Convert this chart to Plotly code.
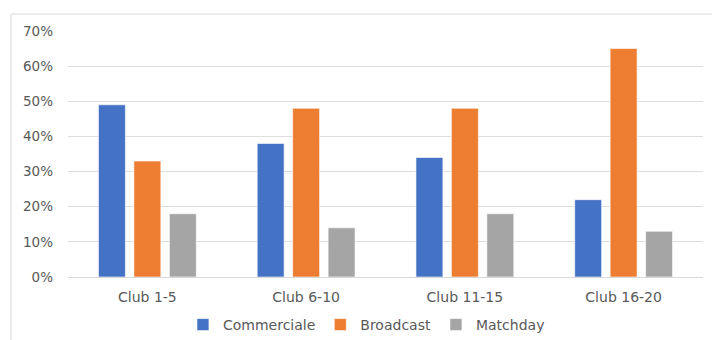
import plotly.graph_objects as go

# Revenue mix by league-position band
categories = ["Club 1-5", "Club 6-10", "Club 11-15", "Club 16-20"]
commerciale = [49, 38, 34, 22]
broadcast = [33, 48, 48, 65]
matchday = [18, 14, 18, 13]
y_ticks = [0, 10, 20, 30, 40, 50, 60, 70]
y_tick_text = [f"{v}%" for v in y_ticks]

series = [
    ("Commerciale", commerciale, "#4472C4"),
    ("Broadcast", broadcast, "#ED7D31"),
    ("Matchday", matchday, "#A5A5A5"),
]

W, H = 712, 340
ML, MR, MT, MB = 68, 9, 31, 63
pw, ph = W - ML - MR, H - MT - MB

fig = go.Figure()
for name, vals, color in series:
    fig.add_trace(go.Bar(
        x=categories, y=vals, name=name,
        marker=dict(color=color, line=dict(color="rgba(255,255,255,0.6)", width=1)),
    ))

FAMILY = "DejaVu Sans, Verdana, sans-serif"
font = dict(family=FAMILY, size=14, color="#595959")

# outer chart-area frame
fig.add_shape(
    type="rect", xref="paper", yref="paper",
    x0=(11 - ML) / pw, x1=(W + 20 - ML) / pw,
    y0=-(H + 20 - MT - ph) / ph, y1=1 + (MT - 14) / ph,
    line=dict(color="#D9D9D9", width=1), fillcolor="rgba(0,0,0,0)", layer="below",
)

fig.update_layout(
    width=W, height=H,
    margin=dict(l=ML, r=MR, t=MT, b=MB, autoexpand=False),
    paper_bgcolor="white", plot_bgcolor="white",
    font=font,
    barmode="group", bargap=0.33, bargroupgap=0.24,
    showlegend=True,
    legend=dict(
        orientation="h", x=0.47, xanchor="center", y=-0.195, yanchor="middle",
        font=dict(family=FAMILY, size=14, color="#595959"),
        itemwidth=30, traceorder="normal",
    ),
    xaxis=dict(
        showgrid=False, showline=True, linecolor="#D9D9D9", linewidth=1,
        ticks="", ticklabelstandoff=7,
    ),
    yaxis=dict(
        range=[0, 70], tickvals=y_ticks, ticktext=y_tick_text,
        tickfont=dict(size=13.5),
        showgrid=True, gridcolor="#DEDEDE", gridwidth=1,
        zeroline=True, zerolinecolor="#D9D9D9", zerolinewidth=1,
        showline=False, ticks="", ticklabelstandoff=14,
    ),
)

fig.write_html("out.html")
